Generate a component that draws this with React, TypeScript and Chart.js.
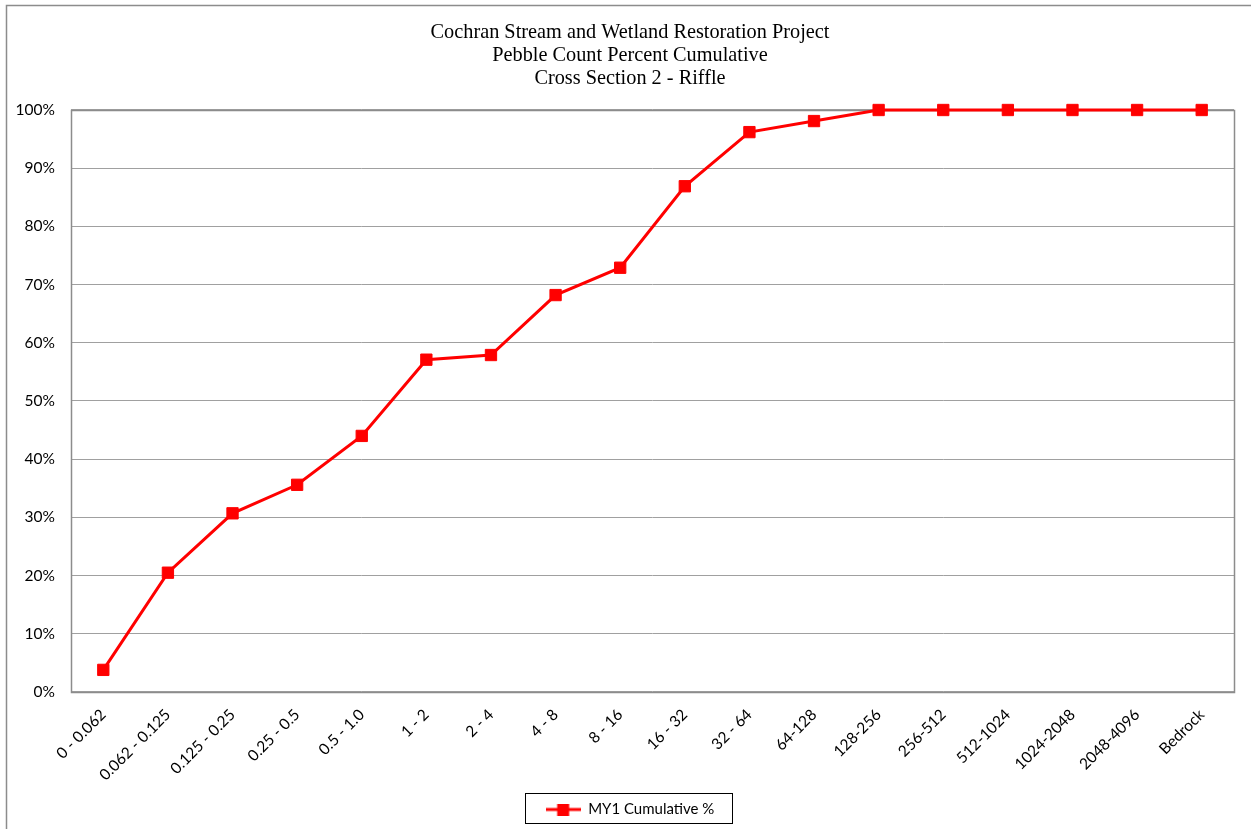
import React, { useEffect, useRef } from "react";
import { Chart, registerables } from "chart.js";

Chart.register(...registerables);

const categories: string[] = [
  "0 - 0.062",
  "0.062 - 0.125",
  "0.125 - 0.25",
  "0.25 - 0.5",
  "0.5 - 1.0",
  "1 - 2",
  "2 - 4",
  "4 - 8",
  "8 - 16",
  "16 - 32",
  "32 - 64",
  "64-128",
  "128-256",
  "256-512",
  "512-1024",
  "1024-2048",
  "2048-4096",
  "Bedrock",
];

const my1Cumulative: number[] = [
  3.8, 20.5, 30.7, 35.6, 44.0, 57.1, 57.9, 68.2, 72.9, 86.9, 96.2, 98.1, 100, 100, 100, 100, 100, 100,
];

const titleLines: string[] = [
  "Cochran Stream and Wetland Restoration Project",
  "Pebble Count Percent Cumulative",
  "Cross Section 2 - Riffle",
];

const seriesLabel = "MY1 Cumulative %";
const yTicks = { min: 0, max: 100, step: 10 };

const W = 1251;
const H = 829;

export default function App() {
  const ref = useRef<HTMLCanvasElement | null>(null);

  useEffect(() => {
    const canvas = ref.current;
    if (!canvas) return;

    const legendImg = document.createElement("canvas");
    legendImg.width = 35;
    legendImg.height = 12;
    const lctx = legendImg.getContext("2d")!;
    lctx.fillStyle = "#FF0000";
    lctx.fillRect(0, 4.5, 35, 3);
    lctx.fillRect(11.5, 0, 12, 12);

    const framePlugin = {
      id: "framePlugin",
      beforeDraw(chart: any) {
        const ctx = chart.ctx;
        ctx.save();
        ctx.fillStyle = "#ffffff";
        ctx.fillRect(0, 0, chart.width, chart.height);
        ctx.strokeStyle = "#8c8c8c";
        ctx.lineWidth = 1.5;
        ctx.beginPath();
        ctx.moveTo(6.5, chart.height);
        ctx.lineTo(6.5, 5.5);
        ctx.lineTo(chart.width, 5.5);
        ctx.stroke();
        ctx.restore();
      },
      beforeDatasetsDraw(chart: any) {
        const { ctx, chartArea } = chart;
        ctx.save();
        ctx.strokeStyle = "#8c8c8c";
        ctx.lineWidth = 1.5;
        ctx.strokeRect(
          Math.round(chartArea.left) + 0.5,
          Math.round(chartArea.top) + 0.5,
          Math.round(chartArea.right - chartArea.left),
          Math.round(chartArea.bottom - chartArea.top)
        );
        ctx.restore();
      },
      afterDraw(chart: any) {
        const lg = chart.legend;
        if (!lg || !lg.legendHitBoxes || !lg.legendHitBoxes.length) return;
        const hb = lg.legendHitBoxes[0];
        const ctx = chart.ctx;
        ctx.save();
        ctx.strokeStyle = "#000000";
        ctx.lineWidth = 1;
        const l = Math.round(hb.left - 21) + 0.5;
        const r = Math.round(hb.left + hb.width + 18) + 0.5;
        const t = Math.round(hb.top - 9) + 0.5;
        const b = Math.round(hb.top + hb.height + 6) + 0.5;
        ctx.strokeRect(l, t, r - l, b - t);
        ctx.restore();
      },
    };

    const tickFont = { family: "Lato, 'Open Sans', sans-serif", size: 15.5 };

    const chart = new Chart(canvas, {
      type: "line",
      data: {
        labels: categories,
        datasets: [
          {
            label: seriesLabel,
            data: my1Cumulative,
            borderColor: "#FF0000",
            backgroundColor: "#FF0000",
            borderWidth: 3,
            pointStyle: "rect",
            pointRadius: 8,
            pointBorderWidth: 1,
            pointBorderColor: "#FF0000",
            pointBackgroundColor: "#FF0000",
            tension: 0,
            fill: false,
            clip: false,
            yAxisID: "y",
          } as any,
        ],
      },
      options: {
        responsive: false,
        animation: false,
        layout: { padding: { left: 9, right: 0, top: 0, bottom: 2 } },
        plugins: {
          title: {
            display: true,
            text: titleLines,
            color: "#000000",
            font: { family: "'Liberation Serif', 'Times New Roman', serif", size: 20.3, weight: "normal", lineHeight: 1.133 },
            padding: { top: 21.5, bottom: 19.5 },
          },
          legend: {
            display: true,
            position: "bottom",
            labels: {
              usePointStyle: true,
              pointStyle: legendImg as any,
              pointStyleWidth: 35,
              color: "#000000",
              font: { family: "Lato, 'Open Sans', sans-serif", size: 15 },
              padding: 10,
            },
          },
          tooltip: { enabled: false },
        },
        scales: {
          x: {
            type: "category",
            offset: true,
            grid: { display: false, drawTicks: false },
            border: { display: false },
            ticks: {
              autoSkip: false,
              maxRotation: 45,
              minRotation: 45,
              padding: 13.5,
              color: "#000000",
              font: tickFont,
            },
            afterFit(scale: any) {
              scale.height = 100;
            },
          },
          y: {
            position: "left",
            min: yTicks.min,
            max: yTicks.max,
            grid: { color: "#a0a0a0", lineWidth: 1, drawTicks: false },
            border: { display: false },
            ticks: {
              stepSize: yTicks.step,
              padding: 16,
              color: "#000000",
              font: tickFont,
              callback: (v: any) => `${v}%`,
            },
            afterFit(scale: any) {
              scale.width = 62;
            },
          },
          yRightSpace: {
            type: "linear",
            position: "right",
            display: true,
            grid: { display: false, drawTicks: false },
            border: { display: false },
            ticks: { display: false },
            afterFit(scale: any) {
              scale.width = 17;
            },
          },
        },
      },
      plugins: [framePlugin],
    });

    return () => chart.destroy();
  }, []);

  return (
    <div style={{ position: "absolute", left: 0, top: 0, width: W, height: H, background: "#fff" }}>
      <canvas ref={ref} width={W} height={H} style={{ display: "block", width: W, height: H }} />
    </div>
  );
}
